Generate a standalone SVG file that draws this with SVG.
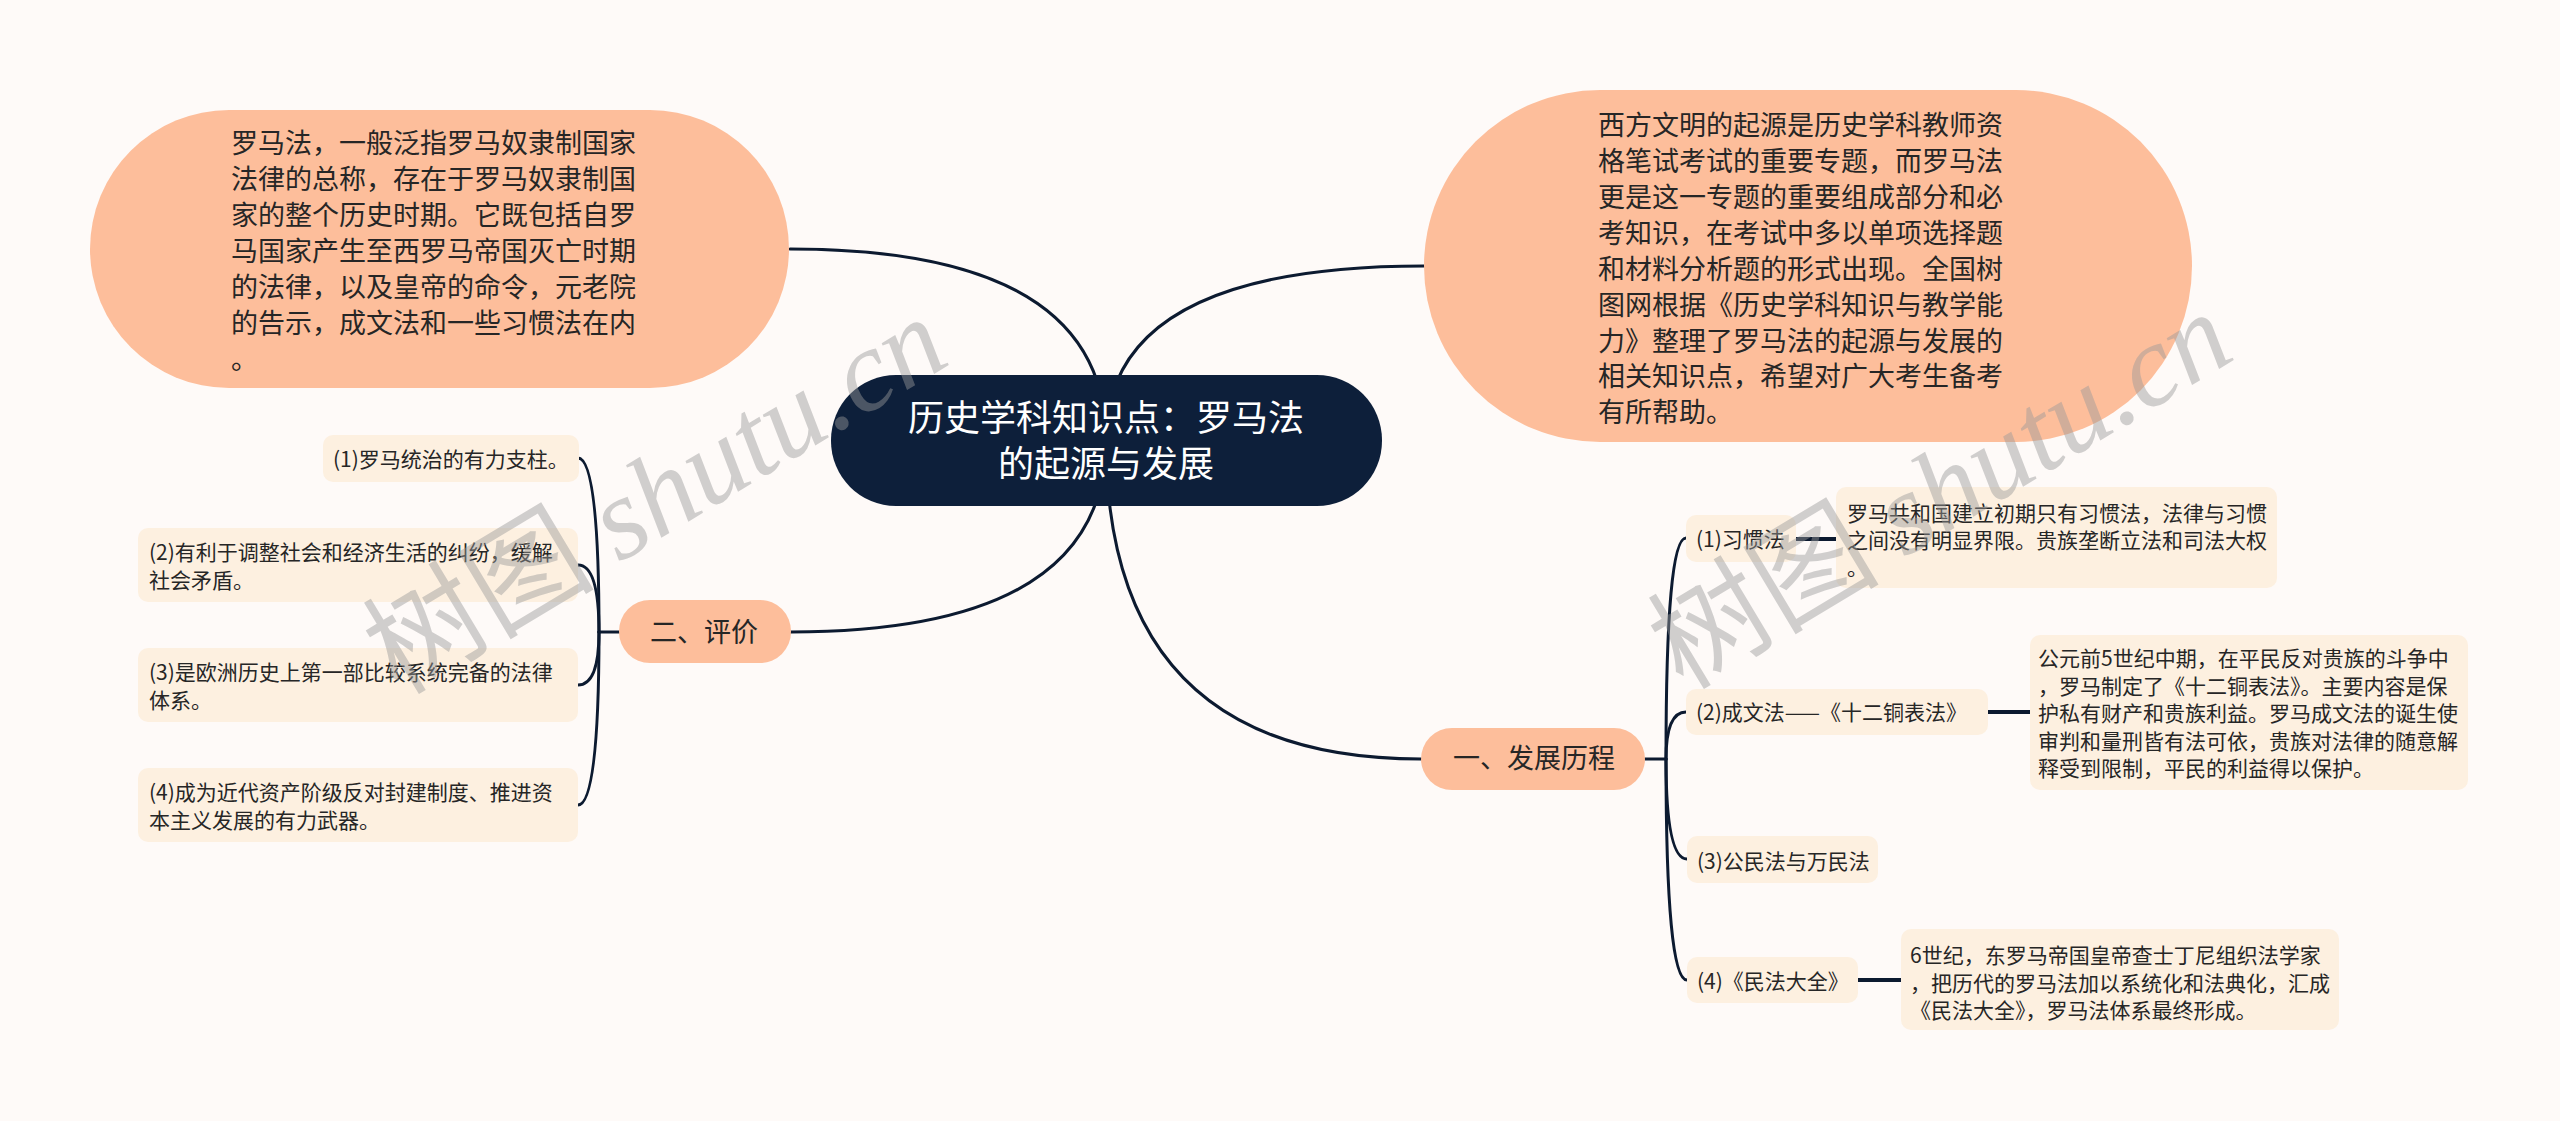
<svg xmlns="http://www.w3.org/2000/svg" width="2560" height="1121" viewBox="0 0 2560 1121">
<style>
.t{font-family:"Noto Sans CJK SC","Noto Sans",sans-serif;fill:#262626}
.big{font-size:27px}
.sm{font-size:21px}
.ctr{font-size:36px;fill:#ffffff;text-anchor:middle}
.peach{fill:#fdbe9b}
.light{fill:#fdf0e0}
.conn{fill:none;stroke:#0c1a30;stroke-width:3;stroke-linecap:round}
.link{fill:none;stroke:#0c1a30;stroke-width:4}
.wm{font-size:116px;fill:#9a9a9a;opacity:0.45;text-anchor:middle}
.wmc{font-family:"Noto Sans CJK SC",sans-serif}
.wml{font-family:"Liberation Serif",serif;font-style:italic}
</style>
<rect x="0" y="0" width="2560" height="1121" fill="#fefaf8"/>
<g id="connectors">
<path class="conn" d="M1106 440 Q1106 249 790 249"/>
<path class="conn" d="M1106 440 Q1106 266 1424 266"/>
<path class="conn" d="M1106 440 Q1106 632 791 632"/>
<path class="conn" d="M1106 440 Q1106 759 1421 759"/>
<path class="conn" d="M619 632 H599"/>
<path class="conn" d="M599 632 Q599 458 578 458"/>
<path class="conn" d="M599 632 Q599 565 578 565"/>
<path class="conn" d="M599 632 Q599 685 578 685"/>
<path class="conn" d="M599 632 Q599 805 578 805"/>
<path class="conn" d="M1645 759 H1666"/>
<path class="conn" d="M1666 759 Q1666 538 1686 538"/>
<path class="conn" d="M1666 759 Q1666 712 1686 712"/>
<path class="conn" d="M1666 759 Q1666 859 1687 859"/>
<path class="conn" d="M1666 759 Q1666 980 1687 980"/>
<path class="link" d="M1796 539 H1836"/>
<path class="link" d="M1988 712 H2030"/>
<path class="link" d="M1858 980 H1901"/>
</g>
<g id="root">
<rect x="831" y="375" width="551" height="131" rx="65" fill="#0d1f3a"/>
<text class="t ctr" x="1106" y="431">历史学科知识点：罗马法</text>
<text class="t ctr" x="1106" y="477">的起源与发展</text>
</g>
<g id="intro-left">
<rect class="peach" x="90" y="110" width="699" height="278" rx="139"/>
<text class="t big" x="231" y="153">罗马法，一般泛指罗马奴隶制国家</text>
<text class="t big" x="231" y="189">法律的总称，存在于罗马奴隶制国</text>
<text class="t big" x="231" y="225">家的整个历史时期。它既包括自罗</text>
<text class="t big" x="231" y="261">马国家产生至西罗马帝国灭亡时期</text>
<text class="t big" x="231" y="297">的法律，以及皇帝的命令，元老院</text>
<text class="t big" x="231" y="333">的告示，成文法和一些习惯法在内</text>
<text class="t big" x="231" y="369">。</text>
</g>
<g id="intro-right">
<rect class="peach" x="1424" y="90" width="768" height="352" rx="176"/>
<text class="t big" x="1598" y="135">西方文明的起源是历史学科教师资</text>
<text class="t big" x="1598" y="171">格笔试考试的重要专题，而罗马法</text>
<text class="t big" x="1598" y="207">更是这一专题的重要组成部分和必</text>
<text class="t big" x="1598" y="243">考知识，在考试中多以单项选择题</text>
<text class="t big" x="1598" y="279">和材料分析题的形式出现。全国树</text>
<text class="t big" x="1598" y="315">图网根据《历史学科知识与教学能</text>
<text class="t big" x="1598" y="351">力》整理了罗马法的起源与发展的</text>
<text class="t big" x="1598" y="386">相关知识点，希望对广大考生备考</text>
<text class="t big" x="1598" y="422">有所帮助。</text>
</g>
<g id="branch-evaluation">
<rect class="peach" x="619" y="600" width="172" height="63" rx="31"/>
<text class="t big" x="650" y="642">二、评价</text>
</g>
<g id="eval-1">
<rect class="light" x="323" y="435" width="256" height="47" rx="10"/>
<text class="t sm" x="333" y="467">(1)罗马统治的有力支柱。</text>
</g>
<g id="eval-2">
<rect class="light" x="138" y="528" width="440" height="74" rx="10"/>
<text class="t sm" x="149" y="560">(2)有利于调整社会和经济生活的纠纷，缓解</text>
<text class="t sm" x="149" y="588">社会矛盾。</text>
</g>
<g id="eval-3">
<rect class="light" x="138" y="648" width="440" height="74" rx="10"/>
<text class="t sm" x="149" y="680">(3)是欧洲历史上第一部比较系统完备的法律</text>
<text class="t sm" x="149" y="708">体系。</text>
</g>
<g id="eval-4">
<rect class="light" x="138" y="768" width="440" height="74" rx="10"/>
<text class="t sm" x="149" y="800">(4)成为近代资产阶级反对封建制度、推进资</text>
<text class="t sm" x="149" y="828">本主义发展的有力武器。</text>
</g>
<g id="branch-history">
<rect class="peach" x="1421" y="728" width="224" height="62" rx="31"/>
<text class="t big" x="1453" y="768">一、发展历程</text>
</g>
<g id="hist-1">
<rect class="light" x="1686" y="515" width="110" height="47" rx="10"/>
<text class="t sm" x="1696" y="547">(1)习惯法</text>
</g>
<g id="hist-1-detail">
<rect class="light" x="1836" y="487" width="441" height="101" rx="10"/>
<text class="t sm" x="1847" y="521">罗马共和国建立初期只有习惯法，法律与习惯</text>
<text class="t sm" x="1847" y="548">之间没有明显界限。贵族垄断立法和司法大权</text>
<text class="t sm" x="1847" y="575">。</text>
</g>
<g id="hist-2">
<rect class="light" x="1686" y="689" width="302" height="46" rx="10"/>
<text class="t sm" x="1696" y="720">(2)成文法——《十二铜表法》</text>
</g>
<g id="hist-2-detail">
<rect class="light" x="2030" y="635" width="438" height="155" rx="10"/>
<text class="t sm" x="2038" y="666">公元前5世纪中期，在平民反对贵族的斗争中</text>
<text class="t sm" x="2038" y="694">，罗马制定了《十二铜表法》。主要内容是保</text>
<text class="t sm" x="2038" y="721">护私有财产和贵族利益。罗马成文法的诞生使</text>
<text class="t sm" x="2038" y="749">审判和量刑皆有法可依，贵族对法律的随意解</text>
<text class="t sm" x="2038" y="776">释受到限制，平民的利益得以保护。</text>
</g>
<g id="hist-3">
<rect class="light" x="1687" y="836" width="191" height="47" rx="10"/>
<text class="t sm" x="1697" y="869">(3)公民法与万民法</text>
</g>
<g id="hist-4">
<rect class="light" x="1687" y="957" width="171" height="46" rx="10"/>
<text class="t sm" x="1697" y="989">(4)《民法大全》</text>
</g>
<g id="hist-4-detail">
<rect class="light" x="1901" y="929" width="438" height="101" rx="10"/>
<text class="t sm" x="1910" y="963">6世纪，东罗马帝国皇帝查士丁尼组织法学家</text>
<text class="t sm" x="1910" y="991">，把历代的罗马法加以系统化和法典化，汇成</text>
<text class="t sm" x="1910" y="1018">《民法大全》，罗马法体系最终形成。</text>
</g>
<g id="watermarks">
<text class="wm" x="655" y="535" transform="rotate(-31 655 495)"><tspan class="wmc">树图 </tspan><tspan class="wml">shutu.cn</tspan></text>
<text class="wm" x="1940" y="530" transform="rotate(-31 1940 490)"><tspan class="wmc">树图 </tspan><tspan class="wml">shutu.cn</tspan></text>
</g>
</svg>
